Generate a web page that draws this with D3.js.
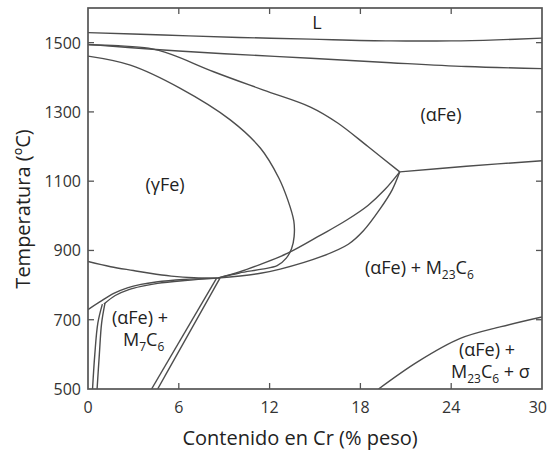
<!DOCTYPE html>
<html>
<head>
<meta charset="utf-8">
<script src="https://cdn.jsdelivr.net/npm/d3@7"></script>
<style>
  body { margin: 0; background: #fff; }
  svg { font-family: 'Open Sans', 'Noto Sans', sans-serif; }
  .frame { fill: none; stroke: #555; stroke-width: 1.7; }
  .curve { fill: none; stroke: #4d4d4d; stroke-width: 1.4; }
  .tick { stroke: #555; stroke-width: 1.3; }
  .ticklbl { font-size: 16px; fill: #333; }
  .title { font-size: 20px; fill: #222; }
  .region { font-size: 18px; fill: #222; }
</style>
</head>
<body>
<svg width="549" height="450"></svg>
<script>
// axis values
var xTicks = [0, 6, 12, 18, 24, 30];
var yTicks = [500, 700, 900, 1100, 1300, 1500];

// phase boundaries, [Cr %, T degC]
var liquidus = [[0, 1529], [5, 1522], [10, 1515], [14.7, 1510], [20, 1505], [24, 1505], [27, 1508], [30, 1513]];
var solidus = [[0, 1495], [4.5, 1480], [9, 1468], [14.7, 1455], [20, 1442], [25, 1431], [30, 1425]];
var gammaOuter = [[0, 1494], [2, 1491], [4, 1484], [5.5, 1466], [8.3, 1416], [11.6, 1363], [14.7, 1314],
  [16.5, 1268], [18.5, 1200], [20.6, 1127]];
var alphaRight = [[20.6, 1127], [25, 1143], [30, 1159]];
var gammaInner = [[0, 1461], [2.8, 1435], [6.1, 1368], [9.4, 1277], [11.4, 1195], [12.6, 1110], [13.2, 1046],
  [13.6, 985], [13.62, 940], [13.45, 905], [13.1, 878], [12.5, 856], [11.5, 846], [10, 835], [8.56, 820]];
var upperBranch = [[8.56, 820], [10, 838], [11.4, 860], [13.2, 892], [15.4, 945], [17.1, 988], [18.5, 1030],
  [19.6, 1075], [20.6, 1127]];
var lowerBranch = [[8.56, 820], [11.4, 834], [12.7, 846], [15.4, 882], [17.2, 918], [18.2, 957], [19.3, 1020],
  [20.1, 1075], [20.6, 1127]];
var line870 = [[0, 868], [1.5, 853], [3, 842], [4.1, 834], [5.5, 826], [7, 821], [8.56, 820]];
var alphaLow1 = [[0, 729], [0.8, 752], [1.7, 776], [2.6, 792], [3.5, 802], [4.5, 809], [6.3, 816], [8.56, 820]];
var alphaLow2 = [[1.05, 745], [1.8, 770], [2.7, 787], [3.6, 797], [4.6, 805], [6.4, 813], [8.56, 820]];
var sliverA = [[0.3, 500], [0.45, 600], [0.65, 690], [0.95, 745]];
var sliverB = [[0.6, 500], [0.75, 600], [0.9, 690], [1.12, 747]];
var diagA = [[4.2, 500], [8.5, 820]];
var diagB = [[4.6, 500], [8.72, 820]];
var sigmaLine = [[19.2, 500], [21.8, 579], [24.6, 646], [27.3, 680], [30, 708]];

var curves = [liquidus, solidus, gammaOuter, alphaRight, gammaInner, upperBranch, lowerBranch,
  line870, alphaLow1, alphaLow2, sliverA, sliverB, diagA, diagB, sigmaLine];

var margin = { left: 88, right: 7, top: 8, bottom: 61 };
var svg = d3.select('svg');
var W = +svg.attr('width'), H = +svg.attr('height');

var x = d3.scaleLinear().domain([0, 30]).range([margin.left, W - margin.right]);
var y = d3.scaleLinear().domain([500, 1600]).range([H - margin.bottom, margin.top]);

svg.append('clipPath').attr('id', 'plot')
  .append('rect')
  .attr('x', x(0)).attr('y', y(1600))
  .attr('width', x(30) - x(0)).attr('height', y(500) - y(1600));

var line = d3.line()
  .x(function (d) { return x(d[0]); })
  .y(function (d) { return y(d[1]); })
  .curve(d3.curveCatmullRom.alpha(0.5));

svg.append('g').attr('clip-path', 'url(#plot)')
  .selectAll('path')
  .data(curves)
  .enter().append('path')
  .attr('class', 'curve')
  .attr('d', line);

// inward ticks on all four sides
var tk = 6;
var inner = xTicks.slice(1, -1);
svg.selectAll('.xt').data(inner).enter().append('line')
  .attr('class', 'tick')
  .attr('x1', x).attr('x2', x)
  .attr('y1', y(500)).attr('y2', y(500) - tk);
svg.selectAll('.xt2').data(inner).enter().append('line')
  .attr('class', 'tick')
  .attr('x1', x).attr('x2', x)
  .attr('y1', y(1600)).attr('y2', y(1600) + tk);
svg.selectAll('.yt').data(yTicks.slice(1)).enter().append('line')
  .attr('class', 'tick')
  .attr('x1', x(0)).attr('x2', x(0) + tk)
  .attr('y1', y).attr('y2', y);
svg.selectAll('.yt2').data(yTicks.slice(1)).enter().append('line')
  .attr('class', 'tick')
  .attr('x1', x(30)).attr('x2', x(30) - tk)
  .attr('y1', y).attr('y2', y);

svg.append('rect').attr('class', 'frame')
  .attr('x', x(0)).attr('y', y(1600))
  .attr('width', x(30) - x(0)).attr('height', y(500) - y(1600));

svg.selectAll('.xl').data(xTicks).enter().append('text')
  .attr('class', 'ticklbl')
  .attr('x', function (d) { return d === 30 ? x(d) + 5 : x(d); })
  .attr('y', y(500) + 24)
  .attr('text-anchor', function (d) { return d === 30 ? 'end' : 'middle'; })
  .text(function (d) { return d; });
svg.selectAll('.yl').data(yTicks).enter().append('text')
  .attr('class', 'ticklbl')
  .attr('x', x(0) - 7).attr('y', function (d) { return y(d) + 6; })
  .attr('text-anchor', 'end')
  .text(function (d) { return d; });

svg.append('text').attr('class', 'title')
  .attr('x', 300).attr('y', 445)
  .attr('text-anchor', 'middle')
  .text('Contenido en Cr (% peso)');
svg.append('text').attr('class', 'title')
  .attr('transform', 'translate(30,209) rotate(-90)')
  .attr('text-anchor', 'middle')
  .text('Temperatura (ºC)');

// region labels; parts = [text, isSubscript]
function label(px, py, parts, anchor) {
  var t = svg.append('text').attr('class', 'region')
    .attr('x', px).attr('y', py)
    .attr('text-anchor', anchor || 'start');
  var down = false;
  parts.forEach(function (p) {
    var s = t.append('tspan').text(p[0]);
    if (p[1] && !down) { s.attr('dy', 5).style('font-size', '12px'); down = true; }
    else if (p[1]) { s.style('font-size', '12px'); }
    else if (down) { s.attr('dy', -5); down = false; }
  });
}
label(317, 29, [['L']], 'middle');
label(441, 121, [['(αFe)']], 'middle');
label(165, 191, [['(γFe)']], 'middle');
label(365, 274, [['(αFe) + M'], ['23', 1], ['C'], ['6', 1]]);
label(112, 324, [['(αFe) +']]);
label(123, 346, [['M'], ['7', 1], ['C'], ['6', 1]]);
label(459, 356, [['(αFe) +']]);
label(451, 378, [['M'], ['23', 1], ['C'], ['6', 1], [' + σ']]);
</script>
</body>
</html>
